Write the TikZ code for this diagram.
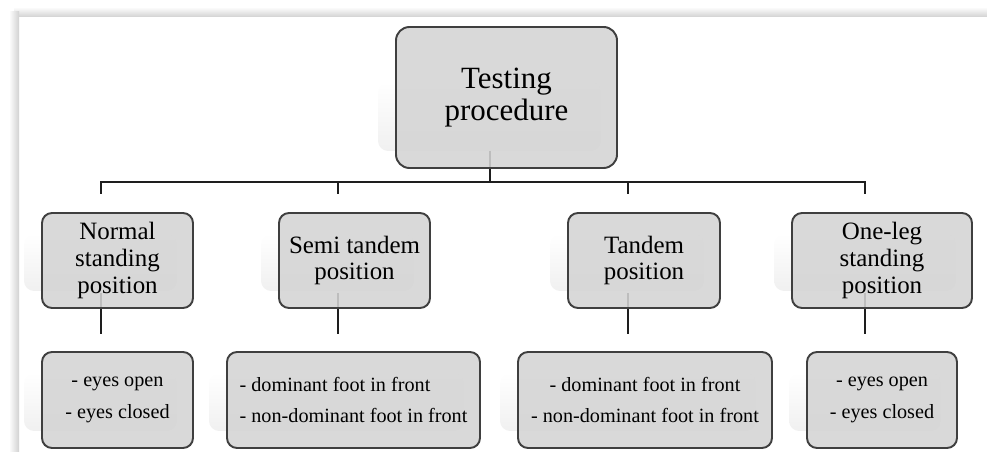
\documentclass[tikz,border=0pt]{standalone}
\usepackage{fontspec}
\setmainfont{Liberation Serif}
\usepackage{tikz}
\usetikzlibrary{
  positioning,
  calc,
  backgrounds
}
\definecolor{tpFill}{HTML}{D4D4D4}
\definecolor{tpLine}{HTML}{3F3F3F}
\definecolor{tpLink}{HTML}{1E1E1E}
\definecolor{tpGlow}{HTML}{F0F0F0}
\definecolor{tpFrame}{HTML}{D2D2D2}
\newcommand{\px}{0.02cm}
\newcommand{\boxglow}[2][22]{%
  \shade[glow] ($(#2.north west)+(-17,#1)$) rectangle ($(#2.south east)+(-17,-18)$);}
\tikzset{
  tpnode/.style={
    draw=tpLine, fill=tpFill, fill opacity=0.88, text opacity=1,
    line width=1.1pt, rounded corners=0.2cm, align=center, inner sep=2pt
  },
  headbox/.style={tpnode, minimum width=221*\px, minimum height=141*\px,
    rounded corners=0.27cm, font=\fontsize{17.6}{18.7}\selectfont},
  posbox/.style={tpnode, minimum height=95*\px, font=\fontsize{14.2}{15.3}\selectfont},
  taskbox/.style={tpnode, minimum height=96*\px, font=\fontsize{11.5}{18.1}\selectfont},
  link/.style={line width=1.1pt, tpLink},
  glow/.style={top color=white, bottom color=tpGlow, draw=none, rounded corners=0.2cm}
}

\begin{document}
\begin{tikzpicture}[x=\px, y=-\px]
  \useasboundingbox (0,0) rectangle (987,452);
  % frame
  \shade[top color=white, bottom color=tpFrame] (14,7) rectangle (987,17);
  \shade[left color=white, right color=tpFrame] (9,12) rectangle (19,452);

  \node[headbox] (test) at (506.5,97.5) {Testing\\procedure};

  \node[posbox, minimum width=151*\px] (pos1) at (117.5,260.5) {Normal\\standing\\position};
  \node[posbox, minimum width=151*\px] (pos2) at (354.5,260.5) {Semi tandem\\position};
  \node[posbox, minimum width=152*\px] (pos3) at (644,260.5) {Tandem\\position};
  \node[posbox, minimum width=180*\px] (pos4) at (882,260.5) {One-leg\\standing\\position};

  \node[taskbox, minimum width=151*\px] (task1) at (117.5,400) {- eyes open\\- eyes closed};
  \node[taskbox, minimum width=253*\px, align=left] (task2) at (353.5,400)
    {- dominant foot in front\\- non-dominant foot in front};
  \node[taskbox, minimum width=254*\px] (task3) at (645,400)
    {- dominant foot in front\\- non-dominant foot in front};
  \node[taskbox, minimum width=150*\px] (task4) at (882,400) {- eyes open\\- eyes closed};

  \coordinate (bus) at (490,182);
  \coordinate (d1) at (101,194);
  \coordinate (d2) at (338,194);
  \coordinate (d3) at (628,194);
  \coordinate (d4) at (865,194);

  \begin{scope}[on background layer]
    \boxglow[56]{test}
    \foreach \i in {1,...,4}{
      \boxglow{pos\i}
      \boxglow{task\i}
    }
    \draw[link] ($(test.south -| bus)+(0,-18)$) -- (bus);
    \draw[link] (d1) |- (d4 |- bus) -- (d4);
    \draw[link] (d2 |- bus) -- (d2);
    \draw[link] (d3 |- bus) -- (d3);
    \foreach \i in {1,...,4}
      \draw[link] ($(pos\i.south -| d\i)+(0,-16)$) -- ($(task\i.north -| d\i)+(0,-17)$);
  \end{scope}
\end{tikzpicture}
\end{document}
